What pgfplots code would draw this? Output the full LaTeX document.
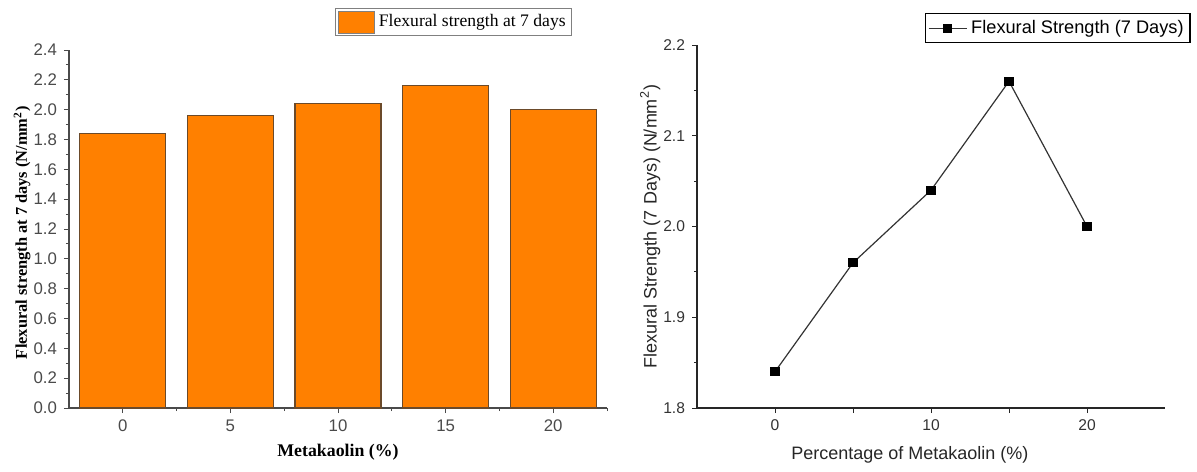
\documentclass[border=0pt]{standalone}
\usepackage{fontspec}
\setmainfont{Liberation Sans}
\newfontfamily\tnr{Liberation Serif}
\usepackage{pgfplots}
\pgfplotsset{compat=1.18}
\definecolor{barorange}{HTML}{FF8000}
\definecolor{baredge}{HTML}{6B4A2A}
\definecolor{tickgray}{HTML}{4A4A4A}
\begin{document}
\begin{tikzpicture}
\useasboundingbox (0,0) rectangle (598.5bp,-236bp);
% ---------------- left: bar chart
\begin{axis}[
  at={(34.5bp,-204bp)}, anchor=south west,
  scale only axis, width=269bp, height=179bp,
  xmin=-2.5, xmax=22.5, ymin=0, ymax=2.4,
  axis x line*=bottom, axis y line*=left,
  axis line style={tickgray, line width=0.6bp},
  tick align=outside, tick style={tickgray, line width=0.5bp},
  major tick length=2.5bp, minor tick length=1.5bp,
  xtick={0,5,10,15,20}, minor xtick={2.5,7.5,12.5,17.5,22.5},
  ytick={0,0.2,...,2.41}, minor ytick={0.1,0.3,...,2.31},
  /pgf/number format/assume math mode=true,
  /pgf/number format/.cd, fixed, fixed zerofill, precision=1, /pgfplots/.cd,
  xticklabel style={/pgf/number format/precision=0, /pgf/number format/fixed zerofill=false},
  ticklabel style={font=\fontsize{8.4bp}{9bp}\selectfont, color=tickgray},
  xlabel={\tnr\bfseries Metakaolin (\%)},
  ylabel={\tnr\bfseries Flexural strength at 7 days (N/mm\textsuperscript{2})},
  xlabel style={font=\fontsize{8.9bp}{9.5bp}\selectfont, at={(axis description cs:0.5,-0.123)}, anchor=center},
  ylabel style={font=\fontsize{8.2bp}{9bp}\selectfont, at={(axis description cs:-0.087,0.49)}, anchor=center},
  legend style={at={(axis description cs:0.715,1.117)}, anchor=north,
    draw=gray, line width=0.5bp, font=\tnr\fontsize{8.8bp}{9.5bp}\selectfont,
    inner sep=1bp, row sep=0bp},
  legend image code/.code={\fill[barorange, draw=gray] (0bp,-5.5bp) rectangle (18bp,5.5bp);},
]
\addplot[ybar, bar width=4, fill=barorange, draw=baredge, line width=0.6bp]
  coordinates {(0,1.84) (5,1.96) (10,2.04) (15,2.16) (20,2.00)};
\addlegendentry{Flexural strength at 7 days}
\end{axis}
% ---------------- right: line chart
\begin{axis}[
  at={(348.5bp,-204bp)}, anchor=south west,
  scale only axis, width=234bp, height=181.5bp,
  xmin=-5, xmax=25, ymin=1.8, ymax=2.2,
  axis x line*=bottom, axis y line*=left,
  axis line style={black!85, line width=0.6bp},
  tick align=outside, tick style={black!85, line width=0.5bp},
  major tick length=2.5bp, minor tick length=1.5bp,
  xtick={0,5,10,15,20}, xticklabels={0,,10,,20},
  ytick={1.8,1.9,2.0,2.1,2.2}, minor ytick={1.85,1.95,2.05,2.15},
  /pgf/number format/assume math mode=true,
  yticklabel style={/pgf/number format/.cd, fixed, fixed zerofill, precision=1},
  ticklabel style={font=\fontsize{7.8bp}{8.5bp}\selectfont, color=black!80},
  xlabel={Percentage of Metakaolin (\%)},
  ylabel={Flexural Strength (7 Days) (N/mm\textsuperscript{2})},
  label style={font=\fontsize{9bp}{10bp}\selectfont, color=black!85},
  xlabel style={at={(axis description cs:0.455,-0.129)}, anchor=center},
  ylabel style={at={(axis description cs:-0.1,0.5)}, anchor=center},
  legend style={at={(axis description cs:0.771,1.088)}, anchor=north,
    draw=black, line width=0.6bp, font=\fontsize{9.1bp}{10bp}\selectfont,
    inner sep=1.2bp},
  legend image code/.code={\draw[#1] (0bp,0bp) -- (19bp,0bp); \draw[#1, only marks] plot coordinates {(9.5bp,0bp)};},
]
\addplot[color=black!80, line width=0.6bp, mark=square*, mark size=2bp,
  mark options={black, solid}]
  coordinates {(0,1.84) (5,1.96) (10,2.04) (15,2.16) (20,2.00)};
\addlegendentry{Flexural Strength (7 Days)}
\end{axis}
\end{tikzpicture}
\end{document}
